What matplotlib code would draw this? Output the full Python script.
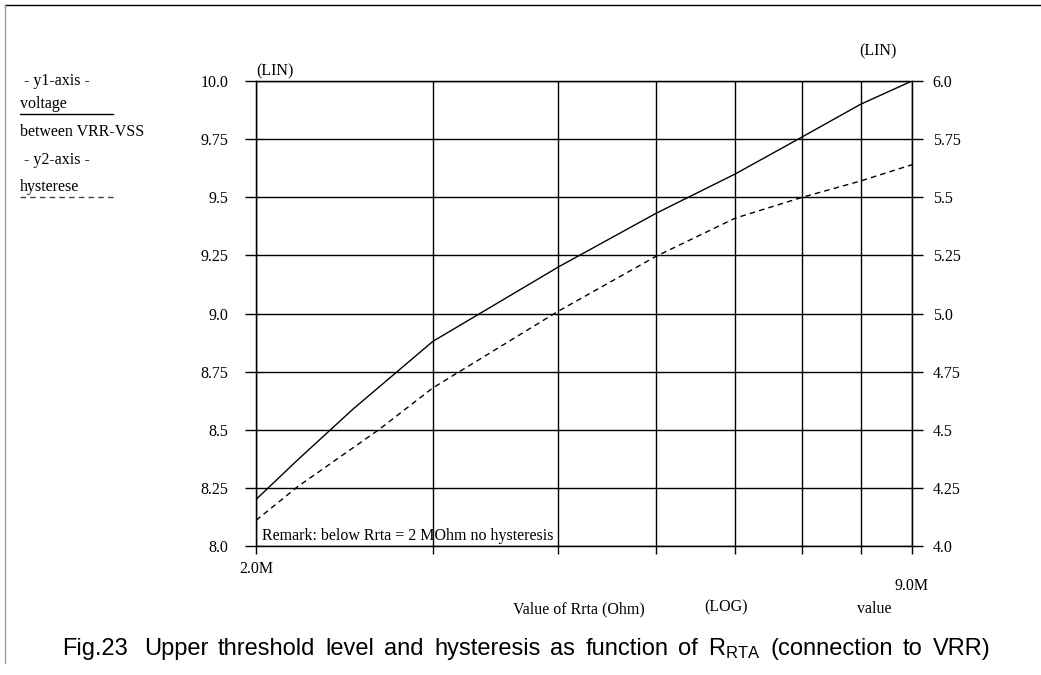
import matplotlib
matplotlib.use("Agg")
import matplotlib.pyplot as plt
from matplotlib.lines import Line2D
from matplotlib.transforms import blended_transform_factory

plt.rcParams['font.family'] = ['Liberation Serif', 'DejaVu Serif']
plt.rcParams['mathtext.default'] = 'regular'

# Rrta (Ohm) vs upper threshold voltage VRR-VSS (V)
r_volt = [2.0e6, 2.2e6, 2.5e6, 3.0e6, 4.0e6, 5.0e6, 6.0e6, 7.0e6, 8.0e6, 9.0e6]
volt = [8.20, 8.37, 8.59, 8.88, 9.20, 9.43, 9.60, 9.76, 9.90, 10.0]

# Rrta (Ohm) vs hysteresis (V)
r_hyst = [2.0e6, 2.2e6, 2.65e6, 3.0e6, 4.0e6, 5.0e6, 6.0e6, 7.0e6, 8.0e6, 9.0e6]
hyst = [4.11, 4.255, 4.50, 4.68, 5.01, 5.245, 5.41, 5.50, 5.57, 5.64]

x_grid = [2e6, 3e6, 4e6, 5e6, 6e6, 7e6, 8e6, 9e6]
y1_ticks = [8.0, 8.25, 8.5, 8.75, 9.0, 9.25, 9.5, 9.75, 10.0]
y1_labels = ["8.0", "8.25", "8.5", "8.75", "9.0", "9.25", "9.5", "9.75", "10.0"]
y2_ticks = [4.0, 4.25, 4.5, 4.75, 5.0, 5.25, 5.5, 5.75, 6.0]
y2_labels = ["4.0", "4.25", "4.5", "4.75", "5.0", "5.25", "5.5", "5.75", "6.0"]

caption_words = ["Fig.23", "", "Upper", "threshold", "level", "and", "hysteresis", "as",
                 "function", "of", "R$_{RTA}$", "(connection", "to", "VRR)"]

W, H = 1041, 675
fig = plt.figure(figsize=(W / 100, H / 100), dpi=100)


def px(x, y):
    # pixel position (from top left) -> figure fraction
    return x / W, 1 - y / H


fs = 11.5
ax = fig.add_axes([256 / W, 1 - 546 / H, 656 / W, 465 / H])
ax.set_xscale('log')
ax.set_xlim(2e6, 9e6)
ax.set_ylim(8, 10)
ax.plot(r_volt, volt, color='black', lw=1.0)

ax.set_xticks(x_grid)
ax.set_xticklabels(["2.0M"] + [""] * (len(x_grid) - 1))
ax.xaxis.set_minor_locator(matplotlib.ticker.NullLocator())
ax.set_yticks(y1_ticks)
ax.set_yticklabels(y1_labels)
ax.tick_params(axis='y', direction='out', length=8, width=1, pad=12, labelsize=fs)
ax.tick_params(axis='x', direction='out', length=6, width=1, pad=5, labelsize=fs)
ax.grid(True, color='black', lw=1.0)
for s in ax.spines.values():
    s.set_linewidth(1.0)

ax2 = ax.twinx()
ax2.set_ylim(4, 6)
ax2.plot(r_hyst, hyst, color='black', lw=1.0, dashes=(4, 3))
ax2.set_yticks(y2_ticks)
ax2.set_yticklabels(y2_labels)
ax2.tick_params(axis='y', direction='out', length=8, width=1, pad=7, labelsize=fs)

ax.text(0.009, 0.012, "Remark: below Rrta = 2 MOhm no hysteresis", transform=ax.transAxes,
        fontsize=fs, ha='left', va='baseline')
ax.text(0.0, 1.004, "(LIN)", transform=ax.transAxes, fontsize=fs, ha='left', va='bottom')
fig.text(*px(878, 51), "(LIN)", fontsize=fs, ha='center', va='center')

# x axis texts below the plot
tr = blended_transform_factory(ax.transData, fig.transFigure)
ax.text(9e6, px(0, 586)[1], "9.0M", transform=tr, fontsize=fs, ha='center', va='center')
fig.text(*px(579, 609), "Value of Rrta (Ohm)", fontsize=fs, ha='center', va='center')
fig.text(*px(726, 607), "(LOG)", fontsize=fs, ha='center', va='center')
fig.text(*px(874, 609), "value", fontsize=fs, ha='center', va='center')

# axis legend on the left
fig.text(*px(20, 81), " - y1-axis -", fontsize=fs, ha='left', va='center')
fig.text(*px(20, 104), "voltage", fontsize=fs, ha='left', va='center')
fig.add_artist(Line2D([20 / W, 113 / W], [1 - 114 / H] * 2, color='black', lw=1.0))
fig.text(*px(20, 132), "between VRR-VSS", fontsize=fs, ha='left', va='center')
fig.text(*px(20, 160), " - y2-axis -", fontsize=fs, ha='left', va='center')
fig.text(*px(20, 187), "hysterese", fontsize=fs, ha='left', va='center')
fig.add_artist(Line2D([20 / W, 113 / W], [1 - 197 / H] * 2, color='#444444', lw=1.0,
                      dashes=(4, 3)))

# page frame
fig.add_artist(Line2D([5 / W, 1.0], [1 - 4.5 / H] * 2, color='black', lw=1.0))
fig.add_artist(Line2D([5 / W] * 2, [1 - 5 / H, 1 - 663 / H], color='#999999', lw=1.0))

# caption, set word by word with wide spacing
renderer = fig.canvas.get_renderer()
x = 62
gap = 10
for word in caption_words:
    if word == "":
        x += 6
        continue
    t = fig.text(*px(x, 655), word, family=['Liberation Sans', 'DejaVu Sans'],
                 fontsize=17, ha='left', va='baseline')
    x = t.get_window_extent(renderer).x1 + gap

fig.savefig("out.png", dpi=100)
